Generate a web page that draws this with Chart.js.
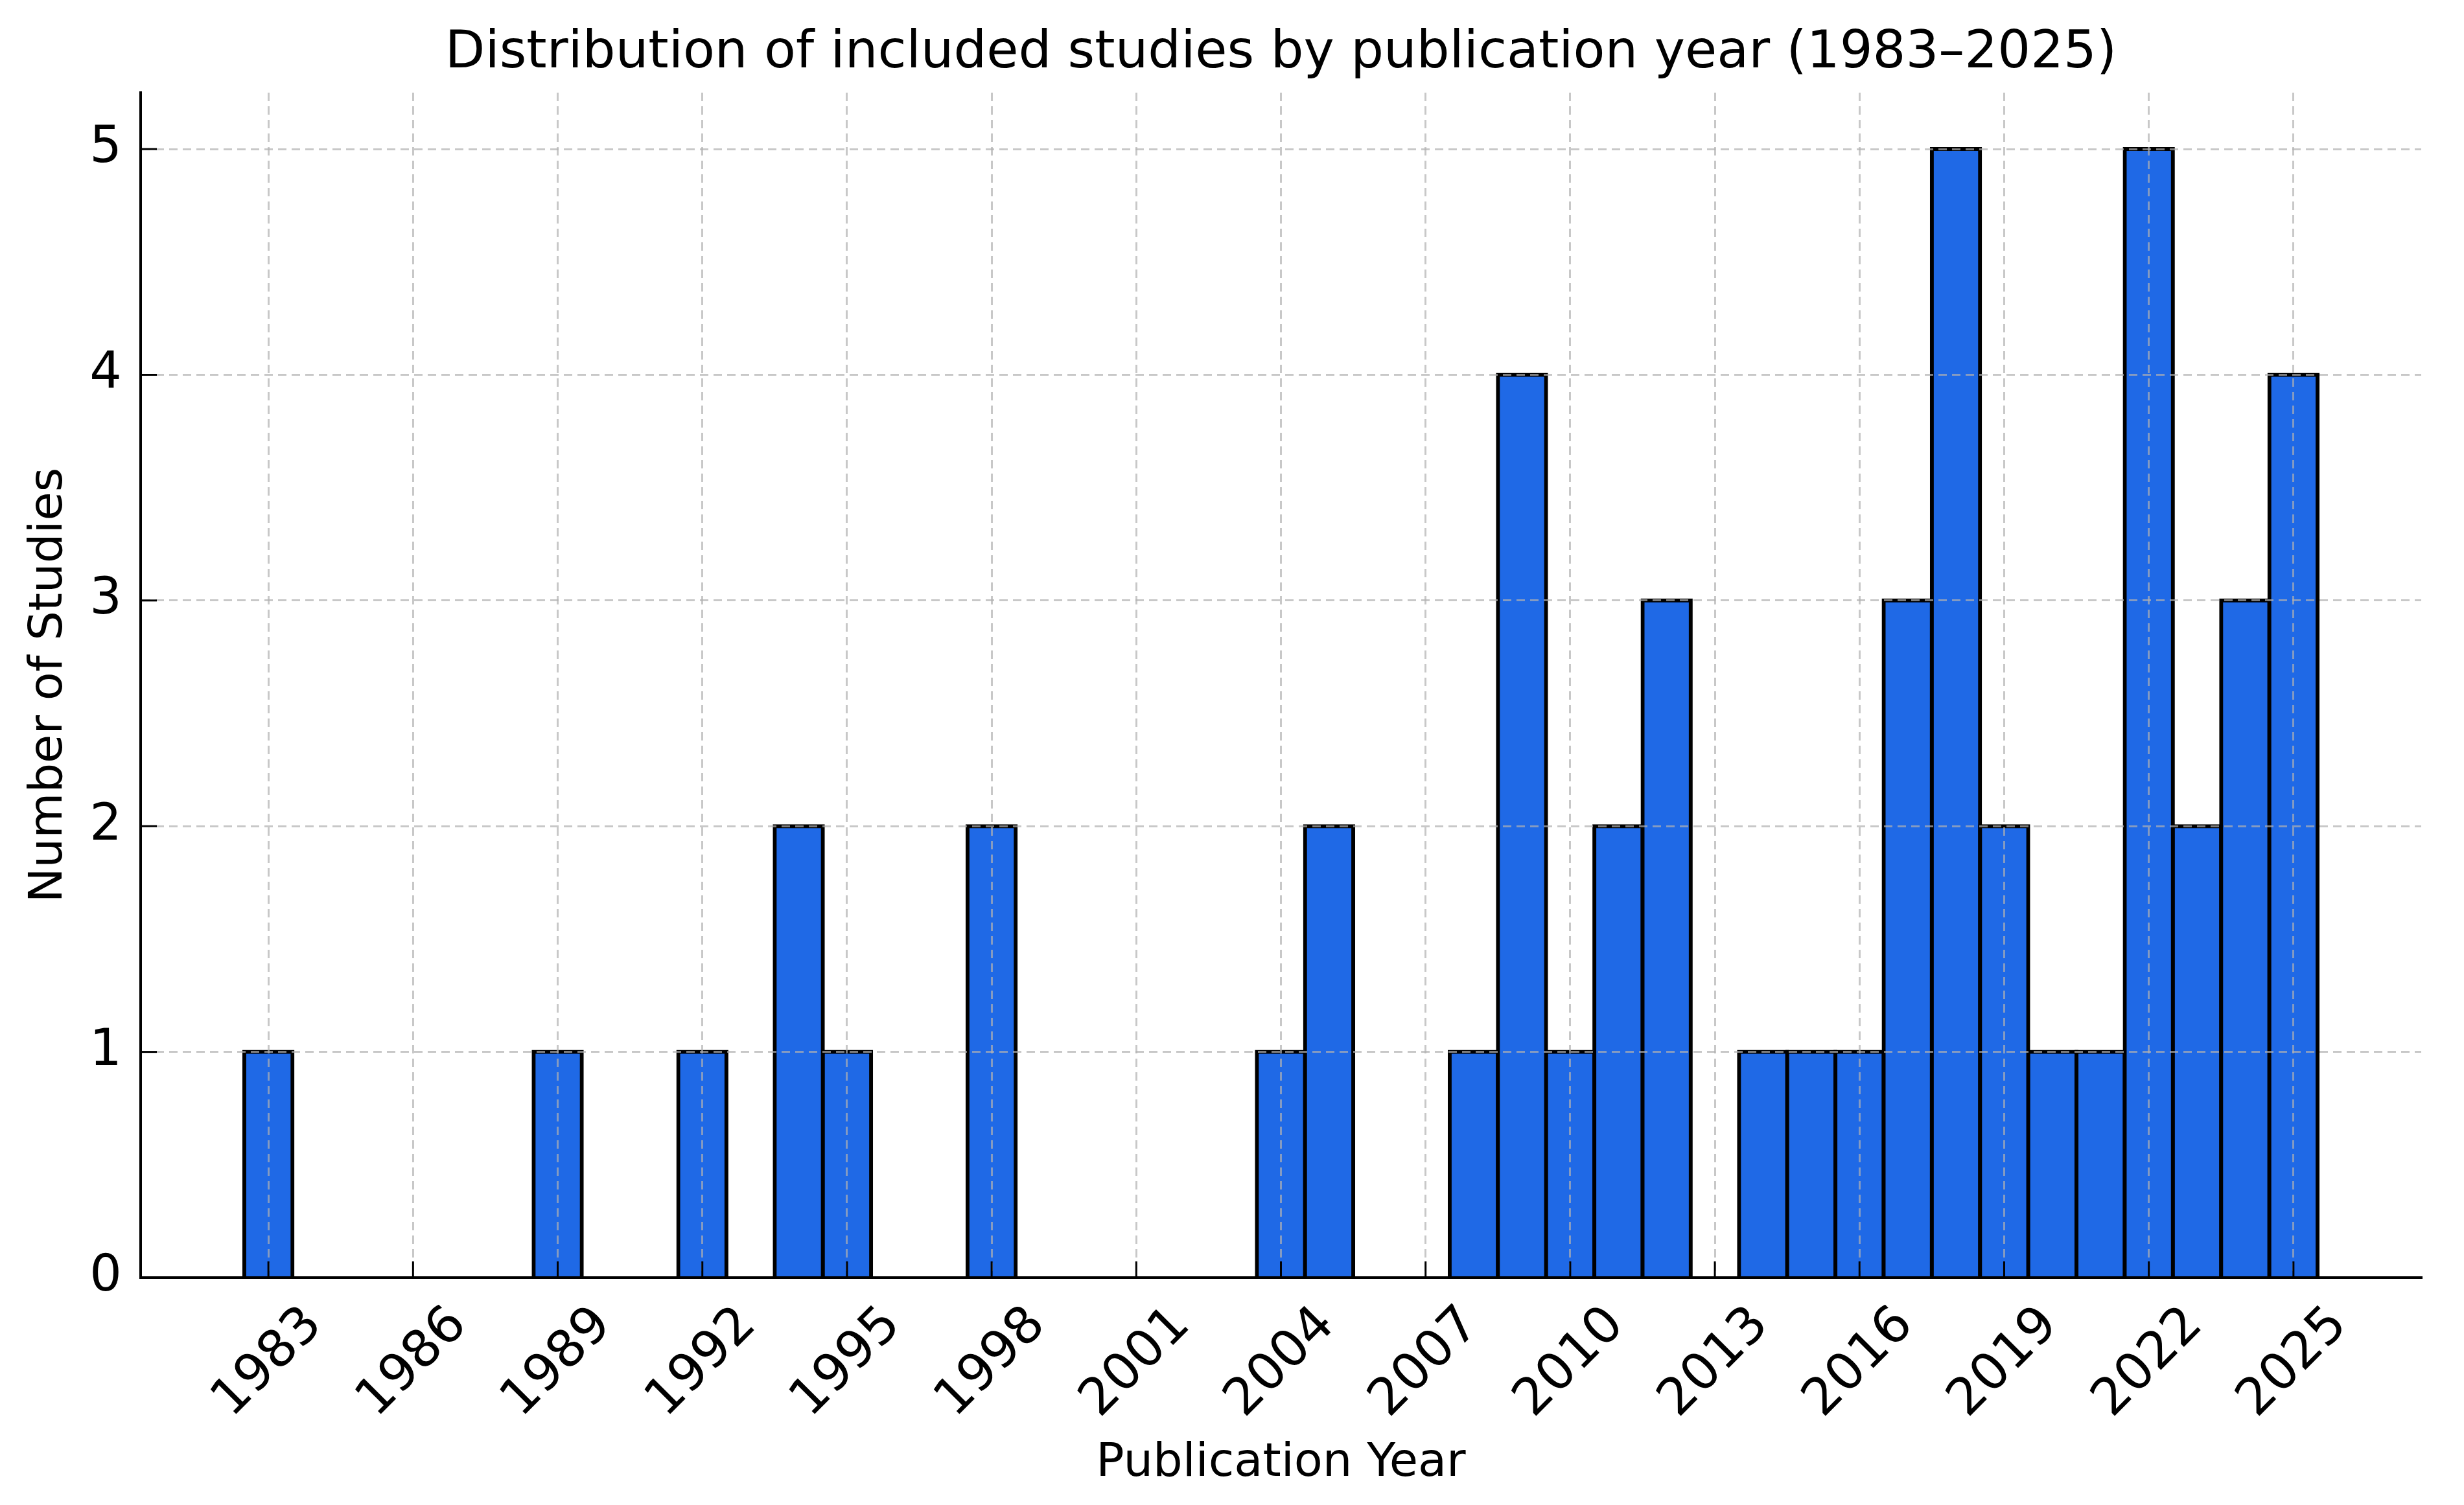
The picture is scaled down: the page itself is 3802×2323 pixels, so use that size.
<!DOCTYPE html>
<html>
<head>
<meta charset="utf-8">
<title>Distribution of included studies by publication year</title>
<script src="https://cdn.jsdelivr.net/npm/chart.js@4.4.1/dist/chart.umd.min.js"></script>
<style>
  html, body { margin: 0; padding: 0; background: #ffffff; }
  #wrap { width: 3802px; height: 2323px; }
</style>
</head>
<body>
<div id="wrap"><canvas id="yearChart" width="3802" height="2323"></canvas></div>
<script>
const years = [
  1983, 1984, 1985, 1986, 1987, 1988, 1989, 1990, 1991, 1992,
  1993, 1994, 1995, 1996, 1997, 1998, 1999, 2000, 2001, 2002,
  2003, 2004, 2005, 2006, 2007, 2008, 2009, 2010, 2011, 2012,
  2013, 2014, 2015, 2016, 2017, 2018, 2019, 2020, 2021, 2022,
  2023, 2024, 2025
];
const counts = [
  1, 0, 0, 0, 0, 0, 1, 0, 0, 1,
  0, 2, 1, 0, 0, 2, 0, 0, 0, 0,
  0, 1, 2, 0, 0, 1, 4, 1, 2, 3,
  0, 1, 1, 1, 3, 5, 2, 1, 1, 5,
  2, 3, 4
];
const xTickYears = [1983, 1986, 1989, 1992, 1995, 1998, 2001, 2004, 2007, 2010, 2013, 2016, 2019, 2022, 2025];
const yTickValues = [0, 1, 2, 3, 4, 5];

const chartTitle = 'Distribution of included studies by publication year (1983–2025)';
const xAxisTitle = 'Publication Year';
const yAxisTitle = 'Number of Studies';

(function () {
    const FONT = "'DejaVu Sans', 'Noto Sans', sans-serif";
    const gridColor = 'rgba(176, 176, 176, 0.7)';

    Chart.defaults.font.family = FONT;
    Chart.defaults.color = '#000000';

    // Ticks hacia dentro + etiquetas del eje X giradas 45° y centradas en el tick
    const axisDecorations = {
        id: 'axisDecorations',
        afterDraw(chart) {
            const ctx = chart.ctx;
            const area = chart.chartArea;
            const xs = chart.scales.x;
            const ys = chart.scales.y;

            ctx.save();
            ctx.strokeStyle = '#000000';
            ctx.lineWidth = 3;
            xs.ticks.forEach(t => {
                const px = xs.getPixelForValue(t.value);
                ctx.beginPath();
                ctx.moveTo(px, area.bottom);
                ctx.lineTo(px, area.bottom - 25);
                ctx.stroke();
            });
            ys.ticks.forEach(t => {
                const py = ys.getPixelForValue(t.value);
                ctx.beginPath();
                ctx.moveTo(area.left, py);
                ctx.lineTo(area.left + 25, py);
                ctx.stroke();
            });

            ctx.fillStyle = '#000000';
            ctx.font = '79px ' + FONT;
            ctx.textAlign = 'center';
            ctx.textBaseline = 'middle';
            xs.ticks.forEach(t => {
                const px = xs.getPixelForValue(t.value);
                ctx.save();
                ctx.translate(px, area.bottom + 132);
                ctx.rotate(-Math.PI / 4);
                ctx.fillText(String(t.value), 0, 0);
                ctx.restore();
            });
            ctx.restore();
        }
    };

    const ctx = document.getElementById('yearChart');

    new Chart(ctx, {
        type: 'bar',
        data: {
            datasets: [{
                label: 'Studies',
                data: years.map((y, i) => ({ x: y, y: counts[i] })),
                backgroundColor: '#1f69e6',
                borderColor: '#000000',
                borderWidth: 6,
                borderSkipped: 'start',
                inflateAmount: 3,
                barPercentage: 1,
                categoryPercentage: 1
            }]
        },
        options: {
            responsive: false,
            devicePixelRatio: 1,
            animation: false,
            layout: {
                padding: { top: 0, right: 66, bottom: 0, left: 0 }
            },
            plugins: {
                legend: { display: false },
                tooltip: { enabled: false },
                title: {
                    display: true,
                    text: chartTitle,
                    fullSize: false,
                    color: '#000000',
                    font: { size: 80, weight: 'normal', lineHeight: 1.2 },
                    padding: { top: 35, bottom: 12 }
                }
            },
            scales: {
                x: {
                    type: 'linear',
                    min: 1980.35,
                    max: 2027.65,
                    offset: false,
                    afterBuildTicks: scale => {
                        scale.ticks = xTickYears.map(v => ({ value: v }));
                    },
                    afterFit: scale => { scale.height = 351; },
                    ticks: { display: false },
                    grid: {
                        offset: false,
                        color: gridColor,
                        lineWidth: 3,
                        drawTicks: false,
                        z: 1
                    },
                    border: { display: true, color: '#000000', width: 4, dash: [13, 8], z: 2 },
                    title: {
                        display: true,
                        text: xAxisTitle,
                        font: { size: 72, lineHeight: 1.2 },
                        padding: { top: 0, bottom: 21 }
                    }
                },
                y: {
                    type: 'linear',
                    min: 0,
                    max: 5.25,
                    afterBuildTicks: scale => {
                        scale.ticks = yTickValues.map(v => ({ value: v }));
                    },
                    afterFit: scale => { scale.width = 217; },
                    ticks: {
                        font: { size: 78 },
                        padding: 29,
                        callback: v => String(v)
                    },
                    grid: {
                        color: gridColor,
                        lineWidth: 3,
                        drawTicks: false,
                        z: 1
                    },
                    border: { display: true, color: '#000000', width: 4, dash: [13, 8], z: 2 },
                    title: {
                        display: true,
                        text: yAxisTitle,
                        font: { size: 72, lineHeight: 1.2 },
                        padding: { top: 33, bottom: 0 }
                    }
                }
            }
        },
        plugins: [axisDecorations]
    });
})();
</script>
</body>
</html>
